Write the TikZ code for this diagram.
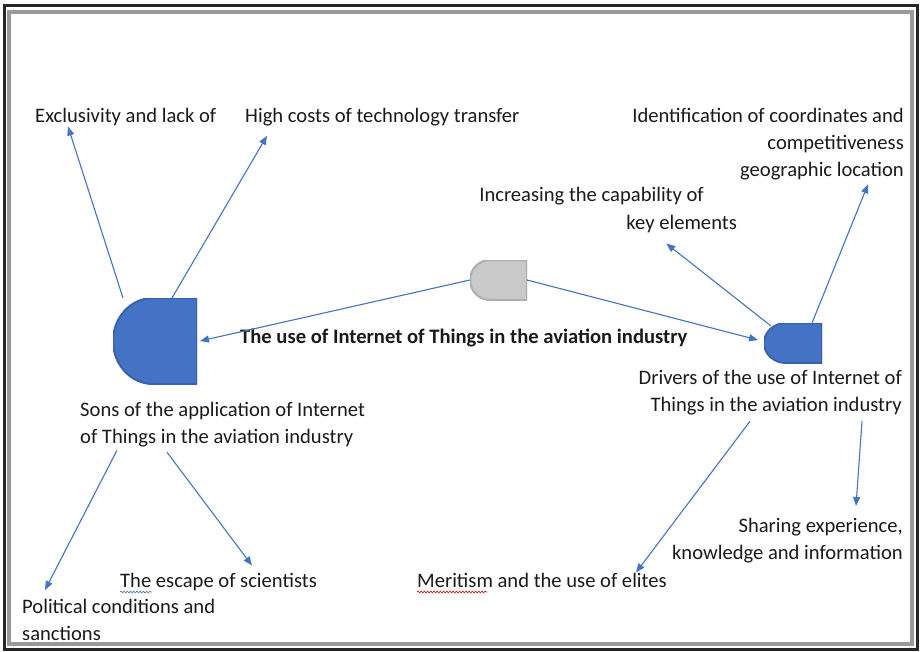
\documentclass[tikz,border=0pt]{standalone}
\usepackage{fontspec}
\setmainfont{Carlito}
\usetikzlibrary{arrows.meta,calc,decorations.pathmorphing}

\definecolor{iotblue}{HTML}{4472C4}
\definecolor{iotedge}{HTML}{3A62AC}
\definecolor{iotgray}{HTML}{C9C9C9}
\definecolor{iotgrayedge}{HTML}{AEAEAE}
\definecolor{iottext}{HTML}{1A1A1A}

\tikzset{
  gfill/.store in=\gfillcol, gdraw/.store in=\gdrawcol, grad/.store in=\gradius,
  gfill=iotblue, gdraw=iotedge, grad=20,
  gate/.style={inner sep=0pt, outer sep=0pt,
    path picture={
      \fill[\gfillcol, draw=\gdrawcol, line width=2pt]
        let \p1=(path picture bounding box.north west),
            \p2=(path picture bounding box.south west) in
        (path picture bounding box.north east) -- (path picture bounding box.south east)
        -- ([xshift=\gradius pt]path picture bounding box.south west)
        arc[start angle=270, end angle=90, x radius=\gradius pt, y radius={(\y1-\y2)/2}]
        -- cycle;
    }},
  lbl/.style={inner sep=0pt, text=iottext},
  link/.style={iotblue, line width=1.1pt, -{Triangle[length=9pt,width=7pt]}},
  squiggle/.style={decorate, decoration={snake, amplitude=0.9pt, segment length=3.2pt}, line width=0.6pt}
}

\begin{document}
\begin{tikzpicture}[x=1pt, y=1pt, font=\fontsize{20.6}{27}\selectfont]
\useasboundingbox (0,0) rectangle (920,-652);
% frame
\draw[line width=3pt, black!85] (4,-6) rectangle (917,-649);
\draw[line width=3.5pt, black!40] (9,-12) rectangle (912,-644);

% gates
\node[gate, grad=40, minimum width=84pt, minimum height=86pt] (lgate) at (155,-341) {};
\node[gate, grad=20, gfill=iotgray, gdraw=iotgrayedge, minimum width=57pt, minimum height=40pt] (cgate) at (498.5,-280) {};
\node[gate, grad=22, minimum width=58pt, minimum height=40pt] (rgate) at (793,-343) {};

% labels
\node[lbl, anchor=base west] (excl) at (35,-123) {Exclusivity and lack of};
\node[lbl, anchor=base west] (costs) at (245,-123) {High costs of technology transfer};
\node[lbl, anchor=north east, align=right] (ident) at (904,-108)
  {Identification of coordinates and\\competitiveness\\geographic location};
\node[lbl, anchor=base east] (incr) at (704,-202) {Increasing the capability of};
\node[lbl, anchor=base east] (keyel) at (737,-230) {key elements};
\node[lbl, anchor=base west, font=\fontsize{20.6}{27}\selectfont\bfseries] (title) at (240,-343)
  {The use of Internet of Things in the aviation industry};
\node[lbl, anchor=north east, align=right] (drivers) at (902,-370)
  {Drivers of the use of Internet of\\Things in the aviation industry};
\node[lbl, anchor=north west, align=left] (sons) at (80,-402)
  {Sons of the application of Internet\\of Things in the aviation industry};
\node[lbl, anchor=north east, align=right] (sharing) at (903,-518)
  {Sharing experience,\\knowledge and information};
\node[lbl, anchor=base west] (escape) at (120,-587) {The escape of scientists};
\node[lbl, anchor=base west] (merit) at (417,-587) {Meritism and the use of elites};
\node[lbl, anchor=north west, align=left] (political) at (22,-599)
  {Political conditions and\\sanctions};

% spelling marks
\draw[squiggle, iotblue] ([yshift=-5pt]escape.base west) -- ++(32,0);
\draw[squiggle, red!85!black] ([yshift=-5pt]merit.base west) -- ++(70,0);

% connectors
\draw[link] ([xshift=10pt]lgate.north west) -- ([xshift=33pt]excl.south west);
\draw[link] ([xshift=-25pt]lgate.north east) -- ([xshift=22pt,yshift=-9pt]costs.south west);
\draw[link] (cgate.west) -- ([xshift=3pt]lgate.east);
\draw[link] (cgate.east) -- ([xshift=-6pt,yshift=3pt]rgate.west);
\draw[link] ([xshift=7pt,yshift=-3pt]rgate.north west) -- ([xshift=40pt,yshift=-10pt]keyel.south west);
\draw[link] ([xshift=-10pt]rgate.north east) -- ([xshift=-36pt,yshift=-4pt]ident.south east);
\draw[link] ([xshift=-152pt,yshift=-6pt]drivers.south east) -- ([xshift=219pt]merit.north west);
\draw[link] ([xshift=-40pt,yshift=-6pt]drivers.south east) -- ([xshift=-47pt,yshift=12pt]sharing.north east);
\draw[link] ([xshift=37pt,yshift=-3pt]sons.south west) -- ([xshift=23pt,yshift=9pt]political.north west);
\draw[link] ([xshift=87pt,yshift=-5pt]sons.south west) -- ([xshift=132pt,yshift=7pt]escape.north west);
\end{tikzpicture}
\end{document}
